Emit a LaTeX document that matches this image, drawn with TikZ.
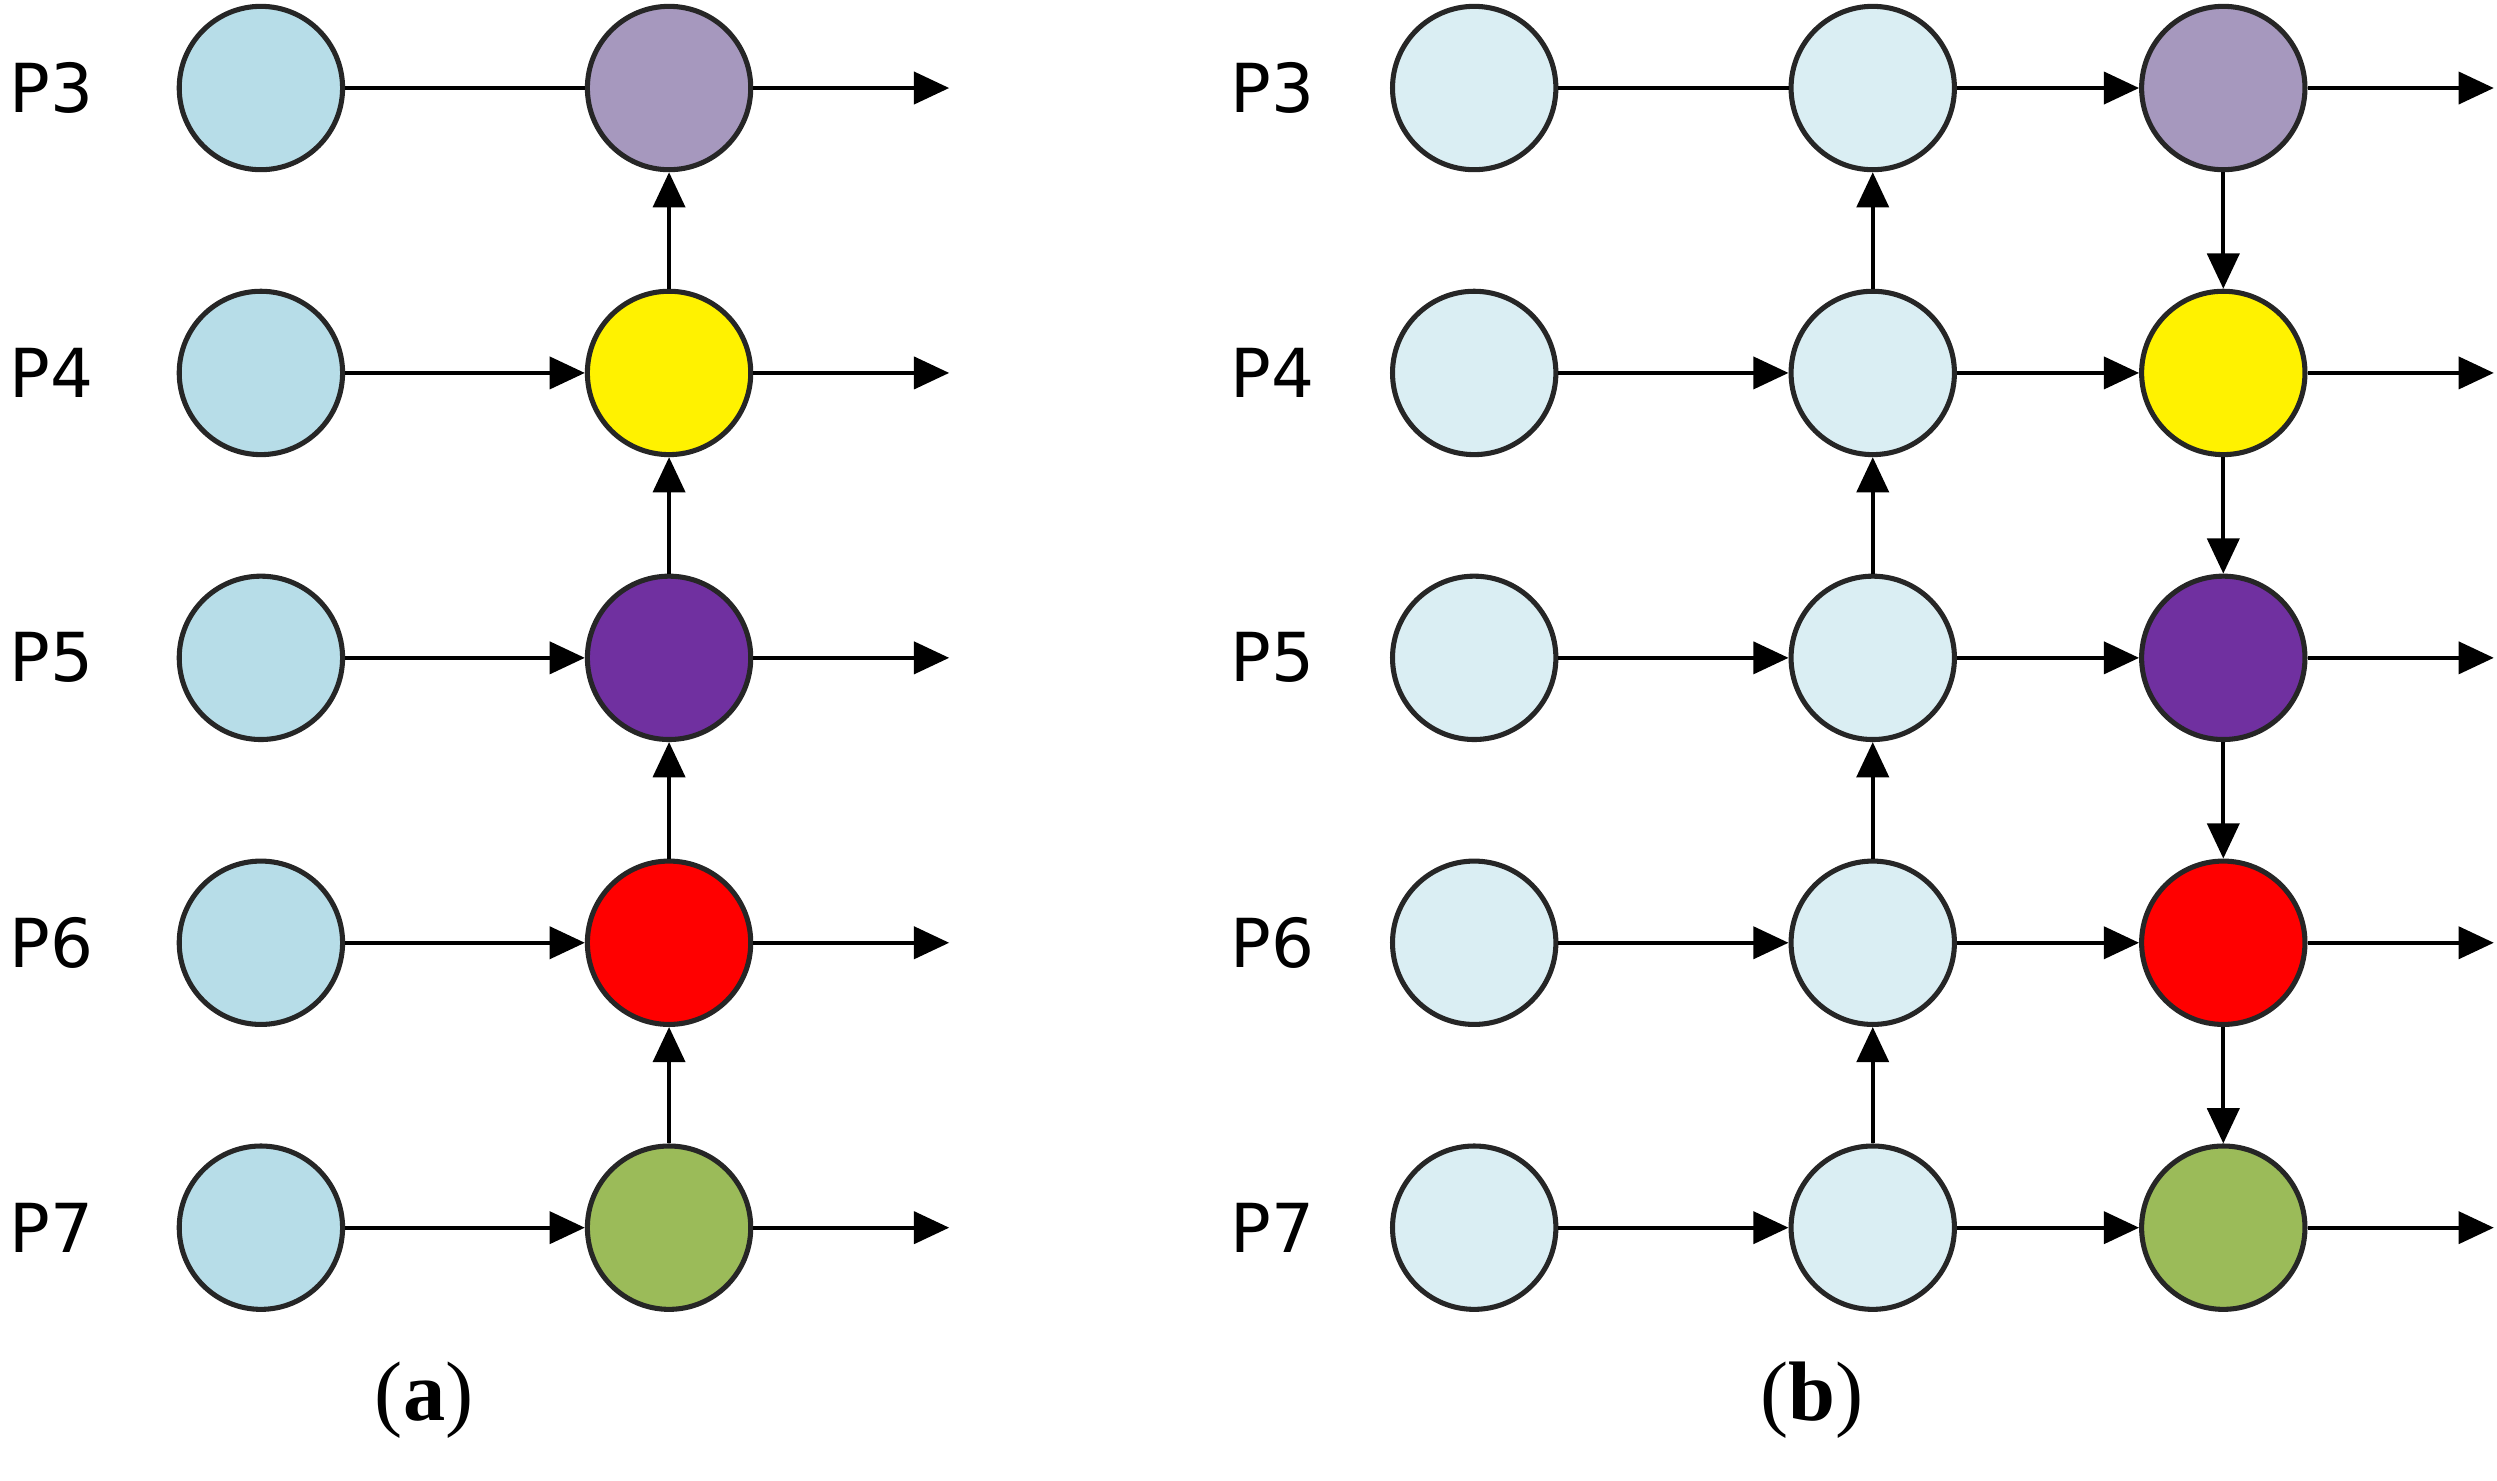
\documentclass[tikz,border=0pt]{standalone}
\usepackage{fontspec}
\setmainfont{Liberation Serif}
\newfontfamily\lab{DejaVu Sans}
\usetikzlibrary{arrows.meta}
\definecolor{lb}{HTML}{B7DDE8}
\definecolor{vlb}{HTML}{DAEEF3}
\definecolor{pg}{HTML}{A698BE}
\definecolor{dp}{HTML}{7030A0}
\definecolor{gr}{HTML}{9BBB59}
\begin{document}
\begin{tikzpicture}[x=0.01cm,y=-0.01cm,
 c/.style={circle,draw=black!85,line width=0.9pt,minimum size=1.02cm,inner sep=0pt},
 ar/.style={line width=0.7pt,-{Triangle[length=0.22cm,width=0.2cm]}},
 ln/.style={line width=0.7pt},
 pl/.style={font=\lab\fontsize{12}{12}\selectfont},
 subcap/.style={font=\fontsize{15}{15}\selectfont}]
\useasboundingbox (0,0) rectangle (1560,925);
\def\rows{1/55/3,2/233/4,3/411/5,4/589/6,5/767/7}
\foreach \i/\y/\p in \rows {
  \node[pl] (la\i) at (32,\y) {P\p};
  \node[pl] (lb\i) at (795,\y) {P\p};
  \node[c,fill=lb] (a\i) at (163,\y) {};
  \node[c,fill=vlb] (b\i) at (921,\y) {};
  \node[c,fill=vlb] (c\i) at (1170,\y) {};
  \coordinate (ea\i) at (593,\y);
  \coordinate (eb\i) at (1558,\y);
}
\node[c,fill=pg] (m1) at (418,55) {};
\node[c,fill=yellow] (m2) at (418,233) {};
\node[c,fill=dp] (m3) at (418,411) {};
\node[c,fill=red] (m4) at (418,589) {};
\node[c,fill=gr] (m5) at (418,767) {};
\node[c,fill=pg] (d1) at (1389,55) {};
\node[c,fill=yellow] (d2) at (1389,233) {};
\node[c,fill=dp] (d3) at (1389,411) {};
\node[c,fill=red] (d4) at (1389,589) {};
\node[c,fill=gr] (d5) at (1389,767) {};
\draw[ln] (a1) -- (m1);
\draw[ln] (b1) -- (c1);
\foreach \i in {2,...,5} {
  \draw[ar] (a\i) -- (m\i);
  \draw[ar] (b\i) -- (c\i);
}
\foreach \i in {1,...,5} {
  \draw[ar] (m\i) -- (ea\i);
  \draw[ar] (c\i) -- (d\i);
  \draw[ar] (d\i) -- (eb\i);
}
\foreach \i/\j in {2/1,3/2,4/3,5/4} {
  \draw[ar] (m\i) -- (m\j);
  \draw[ar] (c\i) -- (c\j);
  \draw[ar] (d\j) -- (d\i);
}
\node[subcap] (ca) at (265,875) {(\textbf{a})};
\node[subcap] (cb) at (1132,875) {(\textbf{b})};
\end{tikzpicture}
\end{document}
